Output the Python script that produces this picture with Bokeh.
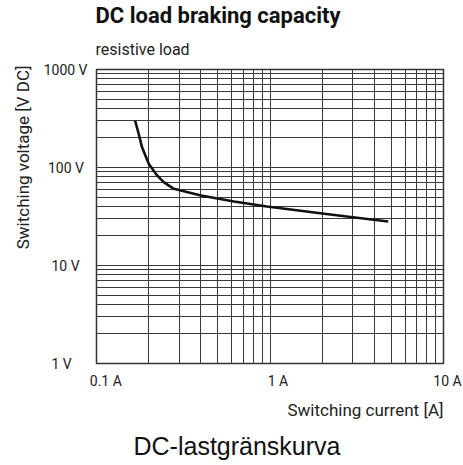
from bokeh.plotting import figure
from bokeh.models import FixedTicker, Title, ColumnDataSource
from bokeh.embed import file_html
from bokeh.resources import INLINE

# Data
current_a = [0.167, 0.175, 0.183, 0.2, 0.2235, 0.244, 0.279, 0.4, 0.62, 0.96, 1.95, 3.0, 4.8]
voltage_v = [300, 221, 161, 109, 83, 70.8, 60.6, 51.8, 45, 40, 34.2, 31.1, 28.1]

x_ticks = [0.1, 1, 10]
x_tick_labels = ["\u2007\u2007\u20090.1 A", "\u2007\u20071 A", "\u200710 A"]
y_ticks = [1, 10, 100, 1000]
y_tick_labels = ["1 V\u2007\u2007", "10 V\u2007", "100 V\u2005", "1000 V"]

title_text = "DC load braking capacity"
subtitle_text = "resistive load"
x_label = "Switching current [A]"
y_label = "Switching voltage [V DC]"
caption_text = "DC-lastgränskurva"

NARROW = "Roboto"

p = figure(width=463, height=465, x_axis_type="log", y_axis_type="log",
           x_range=(0.1, 10), y_range=(1, 1000),
           output_backend="svg", toolbar_location=None,
           min_border_left=96, min_border_right=20,
           min_border_top=69, min_border_bottom=102)

# outer title (main)
p.title.text = title_text
p.title.text_font = NARROW
p.title.text_font_style = "bold"
p.title.text_font_size = "22px"
p.title.align = "left"
p.title.offset = -1
p.title.standoff = 0
p.title.text_color = "#111111"

# inner title (subtitle)
sub = Title(text=subtitle_text, align="left", text_font=NARROW,
            text_font_style="normal", text_font_size="16px",
            text_color="#222222", offset=-1, standoff=21)
p.add_layout(sub, "above")

def minors(majors):
    out = []
    for m in majors[:-1]:
        out += [m * k for k in range(2, 10)]
    return out

p.xaxis.ticker = FixedTicker(ticks=x_ticks, minor_ticks=minors(x_ticks))
p.yaxis.ticker = FixedTicker(ticks=y_ticks, minor_ticks=minors(y_ticks))
p.xaxis.major_label_overrides = {t: l for t, l in zip(x_ticks, x_tick_labels)}
p.yaxis.major_label_overrides = {t: l for t, l in zip(y_ticks, y_tick_labels)}

for ax in (p.xaxis, p.yaxis):
    ax.axis_line_color = None
    ax.major_tick_line_color = None
    ax.minor_tick_line_color = None
    ax.major_tick_out = 0
    ax.minor_tick_out = 0
    ax.major_tick_in = 0
    ax.minor_tick_in = 0
    ax.major_label_text_font = NARROW
    ax.major_label_text_font_size = "14px"
    ax.major_label_text_color = "#222222"

p.xaxis.major_label_standoff = 9
p.yaxis.major_label_standoff = 9

for g in (p.xgrid, p.ygrid):
    g.grid_line_color = "#3a3a3a"
    g.grid_line_width = 1
    g.grid_line_alpha = 1
    g.minor_grid_line_color = "#3a3a3a"
    g.minor_grid_line_width = 1

p.outline_line_color = "#333333"
p.outline_line_width = 1.5

ylab = Title(text=y_label, align="right", text_font=NARROW, text_font_style="normal",
             text_font_size="17px", text_color="#222222", offset=-4, standoff=15)
p.add_layout(ylab, "left")

xlab = Title(text=x_label, align="right", text_font=NARROW, text_font_style="normal",
             text_font_size="17px", text_color="#222222", offset=0, standoff=12)
p.add_layout(xlab, "below")

cap = Title(text=caption_text, align="left", offset=37, text_font="Liberation Sans",
            text_font_style="normal", text_font_size="25px", text_color="#111111",
            standoff=8)
p.add_layout(cap, "below")

src = ColumnDataSource(dict(x=current_a, y=voltage_v))
p.line("x", "y", source=src, line_color="#111111", line_width=2.6)

p.background_fill_color = "white"
p.border_fill_color = "white"

open("out.html", "w").write(file_html(p, INLINE))
